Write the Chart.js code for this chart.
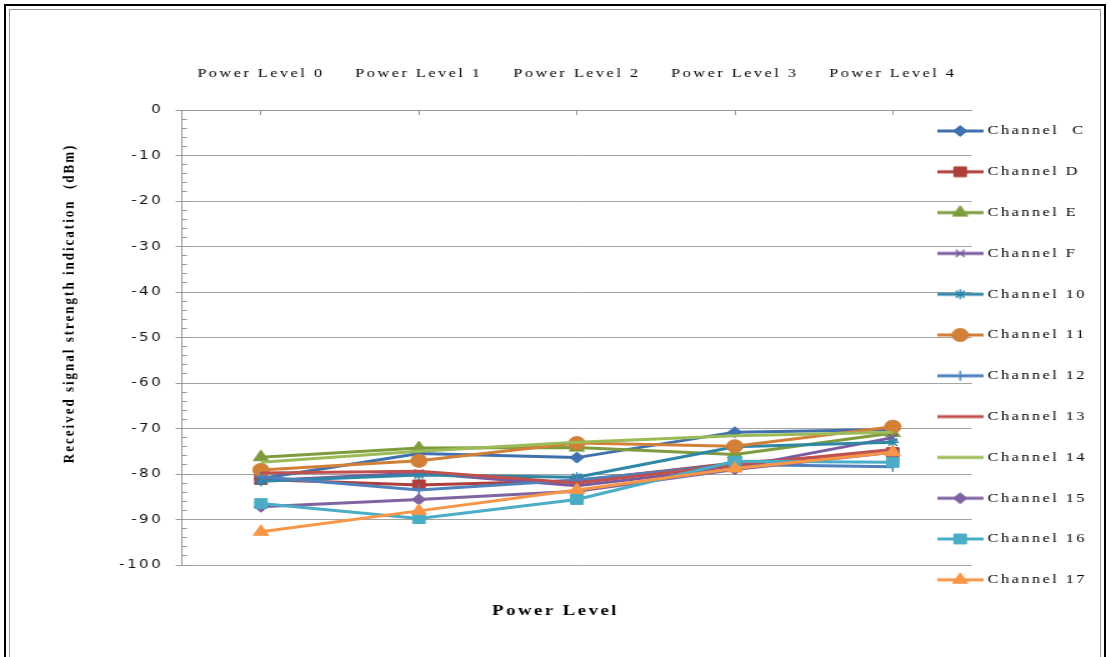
<!DOCTYPE html>
<html>
<head>
<meta charset="utf-8">
<title>RSSI by power level</title>
<script src="https://cdn.jsdelivr.net/npm/chart.js@4.4.1/dist/chart.umd.min.js"></script>
<style>
  html, body { margin: 0; padding: 0; background: #fff; overflow: hidden; }
  #outer { position: absolute; left: 4px; top: 4px; width: 1098px; height: 700px; border: 2px solid #000; }
  #inner { position: absolute; left: 9px; top: 9px; width: 1090px; height: 700px; border: 1px solid #9a9a9a; }
  /* the chart is drawn narrow and widened, which gives the wide lettering and oval markers */
  #wrap { position: absolute; left: 0; top: 0; width: 889px; height: 657px; transform: scaleX(1.2497); transform-origin: 0 0; }
</style>
</head>
<body>
<div id="outer"></div>
<div id="inner"></div>
<div id="wrap"><canvas id="rssi" width="889" height="657"></canvas></div>
<script>
var powerLevels = ['Power Level 0', 'Power Level 1', 'Power Level 2', 'Power Level 3', 'Power Level 4'];
var channelNames = ['Channel  C', 'Channel D', 'Channel E', 'Channel F', 'Channel 10', 'Channel 11',
                    'Channel 12', 'Channel 13', 'Channel 14', 'Channel 15', 'Channel 16', 'Channel 17'];

// received signal strength (dBm), one value per power level
var chC  = [-81.0, -75.5, -76.4, -70.8, -70.2];
var chD  = [-81.2, -82.4, -81.5, -77.6, -75.3];
var chE  = [-76.3, -74.3, -74.2, -75.7, -71.0];
var chF  = [-81.5, -79.8, -82.6, -78.6, -72.0];
var ch10 = [-81.6, -80.2, -80.7, -74.0, -73.0];
var ch11 = [-79.1, -77.1, -73.2, -73.9, -69.6];
var ch12 = [-80.6, -83.5, -81.3, -77.9, -78.4];
var ch13 = [-79.8, -79.4, -82.0, -78.0, -74.6];
var ch14 = [-77.4, -75.0, -73.0, -71.6, -70.8];
var ch15 = [-87.2, -85.6, -83.8, -79.0, -75.2];
var ch16 = [-86.5, -89.8, -85.6, -77.2, -77.4];
var ch17 = [-92.7, -88.1, -83.5, -78.8, -75.2];

var rssi = [chC, chD, chE, chF, ch10, ch11, ch12, ch13, ch14, ch15, ch16, ch17];

var lineColors = ['#4170AE', '#AE3F3B', '#7E9C3E', '#7B5AA0', '#2F87A6', '#D27F38',
                  '#4F81BD', '#C0504D', '#9BBB59', '#8064A2', '#4BACC6', '#F79646'];
var markers = ['rectRot', 'rect', 'triangle', 'crossRot', 'star', 'circle',
               'cross', false, false, 'rectRot', 'rect', 'triangle'];
var markerRadius = [5.5, 7, 7, 5, 5, 6.5, 5, 0, 0, 5.5, 7, 7];

var datasets = channelNames.map(function (name, i) {
  return {
    label: name,
    data: rssi[i],
    borderColor: lineColors[i],
    backgroundColor: lineColors[i],
    borderWidth: 3,
    tension: 0,
    fill: false,
    pointStyle: markers[i],
    pointRadius: markerRadius[i],
    pointHoverRadius: markerRadius[i],
    pointBackgroundColor: lineColors[i],
    pointBorderColor: lineColors[i],
    pointBorderWidth: markers[i] === 'crossRot' || markers[i] === 'star' || markers[i] === 'cross' ? 1.5 : 1,
    order: channelNames.length - i   // later channels drawn on top
  };
});

// legend sample: a short stretch of the line with the marker in the middle
function legendIcon(ds) {
  var c = document.createElement('canvas');
  c.width = 37;
  c.height = 16;
  var g = c.getContext('2d');
  g.strokeStyle = ds.borderColor;
  g.lineWidth = 3;
  g.beginPath();
  g.moveTo(0, 8);
  g.lineTo(37, 8);
  g.stroke();
  if (ds.pointStyle && ds.pointRadius > 0) {
    g.fillStyle = ds.pointBackgroundColor;
    g.strokeStyle = ds.pointBorderColor;
    g.lineWidth = ds.pointBorderWidth;
    Chart.helpers.drawPoint(g, {
      pointStyle: ds.pointStyle,
      radius: ds.pointRadius,
      rotation: 0,
      borderWidth: ds.pointBorderWidth
    }, 18.5, 8);
  }
  return c;
}

var LETTER_SPACING = '2px';

var layoutTweaks = {
  id: 'layoutTweaks',
  beforeUpdate: function (chart) {
    chart.ctx.letterSpacing = LETTER_SPACING;
  },
  afterLayout: function (chart) {
    // legend sits over the right end of the plot, like the original sheet;
    // widen its box afterwards so the labels are not clipped
    var lg = chart.legend;
    lg.left = 725;
    lg.width = 163;
    lg.right = lg.left + lg.width;
    lg.top = 96.7;
    lg.bottom = lg.top + lg.height;
  },
  beforeDraw: function (chart) {
    chart.ctx.letterSpacing = LETTER_SPACING;
  }
};

var ctx = document.getElementById('rssi').getContext('2d');
var chart = new Chart(ctx, {
  type: 'line',
  data: { labels: powerLevels, datasets: datasets },
  plugins: [layoutTweaks],
  options: {
    responsive: false,
    animation: false,
    devicePixelRatio: 1,
    events: [],
    layout: { autoPadding: false, padding: { left: 0, right: 0, top: 0, bottom: 4 } },
    scales: {
      x: {
        type: 'category',
        position: 'top',
        offset: true,
        grid: { drawOnChartArea: false, offset: false, tickLength: -5, color: '#999' },
        border: { display: true, color: '#999', width: 1 },
        ticks: {
          font: { family: 'Liberation Serif', size: 13 },
          color: '#000',
          padding: 34,
          maxRotation: 0,
          autoSkip: false
        },
        afterFit: function (s) { s.height = 110; }
      },
      y: {
        type: 'linear',
        position: 'left',
        weight: 1,
        min: -100,
        max: 0,
        ticks: {
          stepSize: 10,
          font: { family: 'DejaVu Sans', size: 12 },
          color: '#111',
          padding: 10
        },
        grid: { color: '#a3a3a3', lineWidth: 1, tickLength: 5, tickColor: '#999' },
        border: { display: true, color: '#999', width: 1 },
        title: {
          display: true,
          text: '             Received signal strength indication  (dBm)',
          font: { family: 'Liberation Serif', size: 13, weight: 'bold' },
          color: '#000',
          padding: { top: 48, bottom: 0 }
        },
        afterFit: function (s) { s.width = 145.6; }
      },
      yMinor: {
        type: 'linear',
        position: 'left',
        weight: 0,
        min: -100,
        max: 0,
        ticks: { display: false, stepSize: 2, autoSkip: false },
        grid: { drawOnChartArea: false, tickLength: -4, color: '#999' },
        border: { display: false },
        afterFit: function (s) { s.width = 0; }
      }
    },
    plugins: {
      tooltip: { enabled: false },
      title: {
        display: true,
        position: 'bottom',
        text: 'Power Level',
        font: { family: 'Liberation Serif', size: 15, weight: 'bold' },
        color: '#000',
        padding: { top: 37, bottom: 33 }
      },
      legend: {
        display: true,
        position: 'right',
        align: 'start',
        maxWidth: 111.4,
        labels: {
          usePointStyle: true,
          pointStyleWidth: 31,
          padding: 27.8,
          color: '#000',
          font: { family: 'Liberation Serif', size: 13 },
          generateLabels: function (ch) {
            return ch.data.datasets.map(function (ds, i) {
              return {
                text: ds.label,
                pointStyle: legendIcon(ds),
                fillStyle: ds.borderColor,
                strokeStyle: ds.borderColor,
                lineWidth: 0,
                hidden: false,
                fontColor: '#000',
                datasetIndex: i
              };
            });
          }
        }
      }
    }
  }
});
</script>
</body>
</html>
